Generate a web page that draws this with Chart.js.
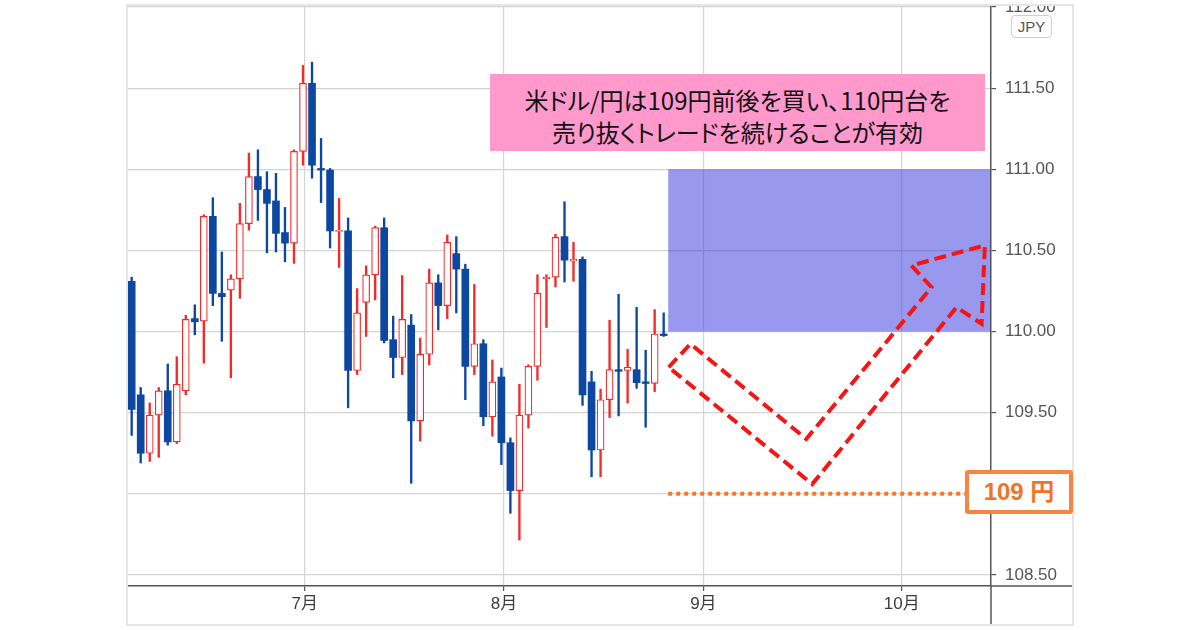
<!DOCTYPE html>
<html><head><meta charset="utf-8">
<script src="https://cdn.jsdelivr.net/npm/chart.js@4.4.1/dist/chart.umd.min.js"></script>
<style>
html,body{margin:0;padding:0;background:#fff;overflow:hidden;}
#wrap{position:relative;width:1200px;height:630px;}
#c{position:absolute;left:0;top:0;}
.strip{position:absolute;left:110px;top:0;width:980px;height:4px;background:#fff;}
.frame{position:absolute;left:126px;top:4px;width:948px;height:622px;border:2px solid #e6e6e6;box-sizing:border-box;pointer-events:none;}
.note{position:absolute;left:490px;top:74px;width:495px;height:77px;background:#ff99cc;color:#111;font-family:"Noto Sans CJK JP","Noto Sans",sans-serif;font-size:24px;line-height:32px;text-align:center;box-sizing:border-box;padding-top:10px;white-space:nowrap;font-feature-settings:"palt";}
.yen{position:absolute;left:965px;top:470px;width:108px;height:44px;border:4px solid #f7843f;border-radius:3px;background:#fff;box-sizing:border-box;color:#f07424;font-family:"Liberation Sans","Noto Sans CJK JP",sans-serif;font-weight:bold;font-size:24px;line-height:36px;text-align:center;}
.jpy{position:absolute;left:1011px;top:15px;width:41px;height:23px;border:1px solid #cfcfcf;border-radius:4px;background:#fff;box-sizing:border-box;color:#555;font-family:"Liberation Sans",sans-serif;font-size:15px;line-height:21px;text-align:center;}
</style></head>
<body>
<div id="wrap">
<canvas id="c" width="1200" height="630"></canvas>
<div class="strip"></div>
<div class="frame"></div>
<div class="jpy">JPY</div>
<div class="note">米ドル/円は109円前後を買い、110円台を<br>売り抜くトレードを続けることが有効</div>
<div class="yen">109 円</div>
</div>
<script>
// ---- data (USD/JPY daily candles, trading-day index 0..59) ----
const opens  = [110.31,109.61,109.25,109.485,109.635,109.32,109.635,110.08,110.065,110.71,
                110.235,110.255,110.325,110.665,110.955,110.875,110.805,110.61,110.545,111.11,
                111.53,111.005,110.995,110.617,110.62,109.76,110.18,110.35,110.64,109.95,
                109.84,110.04,109.45,109.86,110.30,110.16,110.48,110.385,109.785,109.925,
                109.475,109.72,109.315,109.02,109.485,109.785,110.325,110.335,110.585,110.435,
                110.445,109.69,109.27,109.58,109.765,109.76,109.765,109.69,109.68,109.985];
const highs  = [110.335,109.655,109.56,109.655,109.80,109.845,110.10,110.165,110.72,110.825,
                110.49,110.35,110.79,111.10,111.12,110.985,110.975,110.765,111.12,111.64,
                111.66,111.19,111.005,110.82,110.70,110.265,110.405,110.65,110.70,110.095,
                110.345,110.105,109.96,110.385,110.35,110.595,110.585,110.415,110.29,109.95,
                109.825,109.775,109.345,109.675,109.795,110.35,110.35,110.60,110.80,110.55,
                110.46,109.755,109.645,110.07,110.23,109.89,110.15,109.885,110.135,110.115];
const lows   = [109.36,109.19,109.20,109.225,109.30,109.31,109.61,109.98,109.805,110.16,
                109.94,109.715,110.205,110.625,110.685,110.485,110.49,110.43,110.42,111.025,
                110.945,110.795,110.515,110.395,109.53,109.735,109.97,110.195,109.93,109.715,
                109.735,109.065,109.325,109.795,110.01,110.08,110.115,109.58,109.735,109.42,
                109.355,109.18,108.88,108.715,109.405,109.70,110.025,110.275,110.305,110.31,
                109.545,109.105,109.105,109.47,109.48,109.56,109.65,109.41,109.63,109.97];
const closes = [109.52,109.25,109.485,109.635,109.32,109.675,110.075,110.06,110.71,110.235,
                110.215,110.325,110.665,110.955,110.875,110.79,110.605,110.545,111.11,111.53,
                111.025,110.995,110.62,110.623,109.76,110.115,110.35,110.64,109.945,109.84,
                110.075,109.45,109.86,110.30,110.16,110.55,110.385,109.785,109.925,109.475,
                109.69,109.315,109.02,109.485,109.785,110.235,110.335,110.58,110.44,110.445,
                109.61,109.27,109.58,109.765,109.755,109.78,109.685,109.68,109.985,109.975];
const yTicks      = [108.5,109,109.5,110,110.5,111,111.5,112];
const monthTicks  = [19.2,41.3,63.4,85.4];      // trading-day index where each month starts
const monthLabels = ['7月','8月','9月','10月'];
// annotations (data units)
const zoneStartX = 59.5, zoneLow = 110, zoneHigh = 111;
const supportLevel = 109, supportStartX = 59.5;
const arrowX = [59.56,61.96,74.81,88.7,86.47,94.62,94.26,91.48,75.48];
const arrowY = [109.78,109.924,109.338,110.273,110.407,110.531,110.048,110.15,109.06];

const BLUE = '#0c47a1', RED = '#f22a2a';
const isUp = i => closes[i] >= opens[i];

const overlay = {
  id: 'overlay',
  beforeDatasetsDraw(chart) {
    const {ctx, chartArea: a, scales: {x, y}} = chart;
    ctx.save();
    const x0 = x.getPixelForValue(zoneStartX);
    const y0 = y.getPixelForValue(zoneHigh), y1 = y.getPixelForValue(zoneLow);
    ctx.fillStyle = 'rgba(50,50,222,0.5)';
    ctx.fillRect(x0, y0, a.right - 0.8 - x0, y1 - y0);
    ctx.restore();
  },
  afterDatasetsDraw(chart) {
    const {ctx, chartArea: a, scales: {x, y}} = chart;
    ctx.save();
    ctx.strokeStyle = '#f77a2a';
    ctx.lineWidth = 4;
    ctx.setLineDash([4, 4]);
    ctx.beginPath();
    const ys = y.getPixelForValue(supportLevel);
    ctx.moveTo(x.getPixelForValue(supportStartX), ys);
    ctx.lineTo(a.right, ys);
    ctx.stroke();
    ctx.strokeStyle = '#f51515';
    ctx.lineWidth = 4;
    ctx.lineJoin = 'miter';
    ctx.setLineDash([12, 6]);
    ctx.beginPath();
    arrowX.forEach((v, i) => {
      const px = x.getPixelForValue(v), py = y.getPixelForValue(arrowY[i]);
      if (i === 0) ctx.moveTo(px, py); else ctx.lineTo(px, py);
    });
    ctx.closePath();
    ctx.stroke();
    ctx.restore();
  },
  afterDraw(chart) {
    const {ctx, chartArea: a, scales: {x, y}} = chart;
    ctx.save();
    ctx.strokeStyle = '#555';
    ctx.lineWidth = 1.5;
    ctx.beginPath();
    ctx.moveTo(a.right, a.bottom); ctx.lineTo(a.right, x.bottom);
    ctx.moveTo(a.right, a.bottom); ctx.lineTo(y.right, a.bottom);
    ctx.stroke();
    ctx.restore();
  }
};

new Chart(document.getElementById('c'), {
  type: 'bar',
  data: {
    datasets: [
      {
        label: 'body',
        data: opens.map((o, i) => ({x: i, y: [o, closes[i]]})),
        backgroundColor: c => isUp(c.dataIndex) ? '#ffffff' : BLUE,
        borderColor: c => isUp(c.dataIndex) ? RED : BLUE,
        borderWidth: c => isUp(c.dataIndex) ? 1.2 : 0,
        borderSkipped: false,
        barThickness: 7,
        grouped: false,
        order: 0
      },
      {
        label: 'wick',
        data: lows.map((l, i) => ({x: i, y: [l, highs[i]]})),
        backgroundColor: c => isUp(c.dataIndex) ? RED : BLUE,
        borderWidth: 0,
        barThickness: 1.7,
        grouped: false,
        order: 1
      }
    ]
  },
  options: {
    responsive: false,
    animation: false,
    devicePixelRatio: 1,
    layout: {padding: {left: 127, right: 127, top: 7, bottom: 5}},
    plugins: {legend: {display: false}, tooltip: {enabled: false}},
    scales: {
      x: {
        type: 'linear', min: -0.52, max: 95.3, offset: false,
        afterBuildTicks: s => { s.ticks = monthTicks.map(v => ({value: v})); },
        afterFit: s => { s.height = 39; s.paddingLeft = 0; s.paddingRight = 0; },
        ticks: {
          callback: (v, i) => monthLabels[i],
          autoSkip: false, maxRotation: 0, padding: 3,
          color: '#3c3c3c', font: {family: '"Liberation Sans Narrow","Liberation Sans","Noto Sans CJK JP"', size: 17}
        },
        grid: {color: '#d4d4d4', lineWidth: 1.2, offset: false, tickLength: 5, tickColor: '#555', tickWidth: 1.2},
        border: {color: '#555', width: 1.5}
      },
      y: {
        type: 'linear', position: 'right', min: 108.432, max: 112,
        afterBuildTicks: s => { s.ticks = yTicks.map(v => ({value: v})); },
        afterFit: s => { s.width = 82; s.paddingTop = 0; s.paddingBottom = 0; },
        ticks: {
          callback: v => v.toFixed(2),
          padding: 9, color: '#555',
          font: {family: '"Liberation Sans"', size: 17}
        },
        grid: {color: '#d4d4d4', lineWidth: 1.2, tickLength: 5, tickColor: '#555', tickWidth: 1.2},
        border: {color: '#555', width: 1.5}
      }
    }
  },
  plugins: [overlay]
});
</script>
</body></html>
